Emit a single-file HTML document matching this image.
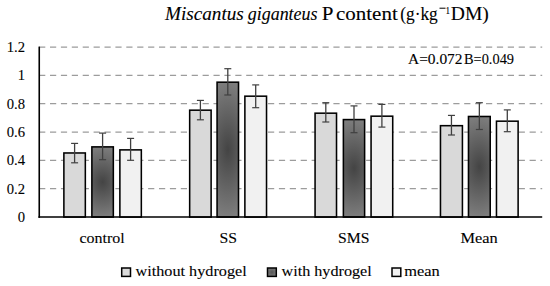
<!DOCTYPE html>
<html><head><meta charset="utf-8"><style>
html,body{margin:0;padding:0;background:#fff;}
svg{display:block;font-family:"Liberation Serif",serif;}
text{fill:#000;}
</style></head><body>
<svg width="550" height="286" viewBox="0 0 550 286">
<defs>
<radialGradient id="g0" gradientUnits="userSpaceOnUse" cx="0" cy="0" r="35.09" gradientTransform="translate(102.60 181.96) scale(0.7947 1)"><stop offset="0" stop-color="#444"/><stop offset="1" stop-color="#7d7d7d"/></radialGradient>
<radialGradient id="g1" gradientUnits="userSpaceOnUse" cx="0" cy="0" r="67.44" gradientTransform="translate(227.80 149.61) scale(0.4135 1)"><stop offset="0" stop-color="#444"/><stop offset="1" stop-color="#7d7d7d"/></radialGradient>
<radialGradient id="g2" gradientUnits="userSpaceOnUse" cx="0" cy="0" r="48.74" gradientTransform="translate(354.00 168.31) scale(0.5668 1)"><stop offset="0" stop-color="#444"/><stop offset="1" stop-color="#7d7d7d"/></radialGradient>
<radialGradient id="g3" gradientUnits="userSpaceOnUse" cx="0" cy="0" r="50.29" gradientTransform="translate(479.35 166.76) scale(0.5623 1)"><stop offset="0" stop-color="#444"/><stop offset="1" stop-color="#7d7d7d"/></radialGradient>
<radialGradient id="gl" cx="0.5" cy="0.5" r="0.6"><stop offset="0" stop-color="#555"/><stop offset="1" stop-color="#808080"/></radialGradient>
</defs>
<rect width="550" height="286" fill="#fff"/>
<line x1="39.1" y1="188.72" x2="542.2" y2="188.72" stroke="#9c9c9c" stroke-width="1.2" stroke-dasharray="6.2 4.7"/>
<line x1="39.1" y1="160.38" x2="542.2" y2="160.38" stroke="#9c9c9c" stroke-width="1.2" stroke-dasharray="6.2 4.7"/>
<line x1="39.1" y1="132.05" x2="542.2" y2="132.05" stroke="#9c9c9c" stroke-width="1.2" stroke-dasharray="6.2 4.7"/>
<line x1="39.1" y1="103.72" x2="542.2" y2="103.72" stroke="#9c9c9c" stroke-width="1.2" stroke-dasharray="6.2 4.7"/>
<line x1="39.1" y1="75.38" x2="542.2" y2="75.38" stroke="#9c9c9c" stroke-width="1.2" stroke-dasharray="6.2 4.7"/>
<line x1="39.1" y1="47.05" x2="542.2" y2="47.05" stroke="#9c9c9c" stroke-width="1.2" stroke-dasharray="6.2 4.7"/>
<rect x="63.88" y="152.97" width="21.45" height="64.08" fill="#d9d9d9" stroke="#000" stroke-width="1.55"/>
<rect x="91.88" y="146.88" width="21.45" height="70.18" fill="url(#g0)" stroke="#000" stroke-width="1.55"/>
<rect x="119.88" y="149.88" width="21.45" height="67.18" fill="#f1f1f1" stroke="#000" stroke-width="1.55"/>
<rect x="189.67" y="110.18" width="21.45" height="106.88" fill="#d9d9d9" stroke="#000" stroke-width="1.55"/>
<rect x="217.07" y="82.18" width="21.45" height="134.88" fill="url(#g1)" stroke="#000" stroke-width="1.55"/>
<rect x="244.88" y="96.18" width="21.65" height="120.88" fill="#f1f1f1" stroke="#000" stroke-width="1.55"/>
<rect x="315.07" y="113.18" width="21.45" height="103.88" fill="#d9d9d9" stroke="#000" stroke-width="1.55"/>
<rect x="343.37" y="119.58" width="21.25" height="97.48" fill="url(#g2)" stroke="#000" stroke-width="1.55"/>
<rect x="371.07" y="116.18" width="21.65" height="100.88" fill="#f1f1f1" stroke="#000" stroke-width="1.55"/>
<rect x="440.47" y="125.68" width="21.95" height="91.38" fill="#d9d9d9" stroke="#000" stroke-width="1.55"/>
<rect x="468.47" y="116.48" width="21.75" height="100.58" fill="url(#g3)" stroke="#000" stroke-width="1.55"/>
<rect x="496.47" y="121.18" width="21.65" height="95.88" fill="#f1f1f1" stroke="#000" stroke-width="1.55"/>
<line x1="74.60" y1="143.40" x2="74.60" y2="162.80" stroke="#404040" stroke-width="1.3"/>
<line x1="71.10" y1="143.40" x2="78.10" y2="143.40" stroke="#404040" stroke-width="1.2"/>
<line x1="71.10" y1="162.80" x2="78.10" y2="162.80" stroke="#404040" stroke-width="1.2"/>
<line x1="102.60" y1="133.10" x2="102.60" y2="159.70" stroke="#404040" stroke-width="1.3"/>
<line x1="99.10" y1="133.10" x2="106.10" y2="133.10" stroke="#404040" stroke-width="1.2"/>
<line x1="99.10" y1="159.70" x2="106.10" y2="159.70" stroke="#404040" stroke-width="1.2"/>
<line x1="130.60" y1="138.40" x2="130.60" y2="160.30" stroke="#404040" stroke-width="1.3"/>
<line x1="127.10" y1="138.40" x2="134.10" y2="138.40" stroke="#404040" stroke-width="1.2"/>
<line x1="127.10" y1="160.30" x2="134.10" y2="160.30" stroke="#404040" stroke-width="1.2"/>
<line x1="200.40" y1="100.40" x2="200.40" y2="119.80" stroke="#404040" stroke-width="1.3"/>
<line x1="196.90" y1="100.40" x2="203.90" y2="100.40" stroke="#404040" stroke-width="1.2"/>
<line x1="196.90" y1="119.80" x2="203.90" y2="119.80" stroke="#404040" stroke-width="1.2"/>
<line x1="227.80" y1="68.70" x2="227.80" y2="95.00" stroke="#404040" stroke-width="1.3"/>
<line x1="224.30" y1="68.70" x2="231.30" y2="68.70" stroke="#404040" stroke-width="1.2"/>
<line x1="224.30" y1="95.00" x2="231.30" y2="95.00" stroke="#404040" stroke-width="1.2"/>
<line x1="255.70" y1="84.90" x2="255.70" y2="107.70" stroke="#404040" stroke-width="1.3"/>
<line x1="252.20" y1="84.90" x2="259.20" y2="84.90" stroke="#404040" stroke-width="1.2"/>
<line x1="252.20" y1="107.70" x2="259.20" y2="107.70" stroke="#404040" stroke-width="1.2"/>
<line x1="325.80" y1="102.70" x2="325.80" y2="122.00" stroke="#404040" stroke-width="1.3"/>
<line x1="322.30" y1="102.70" x2="329.30" y2="102.70" stroke="#404040" stroke-width="1.2"/>
<line x1="322.30" y1="122.00" x2="329.30" y2="122.00" stroke="#404040" stroke-width="1.2"/>
<line x1="354.00" y1="105.90" x2="354.00" y2="132.70" stroke="#404040" stroke-width="1.3"/>
<line x1="350.50" y1="105.90" x2="357.50" y2="105.90" stroke="#404040" stroke-width="1.2"/>
<line x1="350.50" y1="132.70" x2="357.50" y2="132.70" stroke="#404040" stroke-width="1.2"/>
<line x1="381.90" y1="104.40" x2="381.90" y2="127.10" stroke="#404040" stroke-width="1.3"/>
<line x1="378.40" y1="104.40" x2="385.40" y2="104.40" stroke="#404040" stroke-width="1.2"/>
<line x1="378.40" y1="127.10" x2="385.40" y2="127.10" stroke="#404040" stroke-width="1.2"/>
<line x1="451.45" y1="115.40" x2="451.45" y2="135.00" stroke="#404040" stroke-width="1.3"/>
<line x1="447.95" y1="115.40" x2="454.95" y2="115.40" stroke="#404040" stroke-width="1.2"/>
<line x1="447.95" y1="135.00" x2="454.95" y2="135.00" stroke="#404040" stroke-width="1.2"/>
<line x1="479.35" y1="102.70" x2="479.35" y2="129.50" stroke="#404040" stroke-width="1.3"/>
<line x1="475.85" y1="102.70" x2="482.85" y2="102.70" stroke="#404040" stroke-width="1.2"/>
<line x1="475.85" y1="129.50" x2="482.85" y2="129.50" stroke="#404040" stroke-width="1.2"/>
<line x1="507.30" y1="109.90" x2="507.30" y2="131.70" stroke="#404040" stroke-width="1.3"/>
<line x1="503.80" y1="109.90" x2="510.80" y2="109.90" stroke="#404040" stroke-width="1.2"/>
<line x1="503.80" y1="131.70" x2="510.80" y2="131.70" stroke="#404040" stroke-width="1.2"/>
<line x1="39.25" y1="46.6" x2="39.25" y2="217.85" stroke="#000" stroke-width="1.6"/>
<line x1="38.45" y1="217.05" x2="542.2" y2="217.05" stroke="#000" stroke-width="1.6"/>
<text x="25" y="222.15" text-anchor="end" font-size="14.67" stroke="#000" stroke-width="0.1">0</text>
<text x="25" y="193.82" text-anchor="end" font-size="14.67" stroke="#000" stroke-width="0.1">0.2</text>
<text x="25" y="165.48" text-anchor="end" font-size="14.67" stroke="#000" stroke-width="0.1">0.4</text>
<text x="25" y="137.15" text-anchor="end" font-size="14.67" stroke="#000" stroke-width="0.1">0.6</text>
<text x="25" y="108.82" text-anchor="end" font-size="14.67" stroke="#000" stroke-width="0.1">0.8</text>
<text x="25" y="80.48" text-anchor="end" font-size="14.67" stroke="#000" stroke-width="0.1">1</text>
<text x="25" y="52.15" text-anchor="end" font-size="14.67" stroke="#000" stroke-width="0.1">1.2</text>
<text x="79.5" y="243" font-size="14.67" textLength="45.26" lengthAdjust="spacingAndGlyphs" stroke="#000" stroke-width="0.1">control</text>
<text x="219.5" y="243" font-size="14.67" textLength="17.51" lengthAdjust="spacingAndGlyphs" stroke="#000" stroke-width="0.1">SS</text>
<text x="338.0" y="243" font-size="14.67" textLength="31.38" lengthAdjust="spacingAndGlyphs" stroke="#000" stroke-width="0.1">SMS</text>
<text x="460.5" y="243" font-size="14.67" textLength="37.27" lengthAdjust="spacingAndGlyphs" stroke="#000" stroke-width="0.1">Mean</text>
<rect x="121.70" y="268.0" width="8.8" height="8.4" fill="#d9d9d9" stroke="#000" stroke-width="1.5"/>
<text x="135.5" y="276.4" font-size="14.67" textLength="111.25" lengthAdjust="spacingAndGlyphs" stroke="#000" stroke-width="0.1">without hydrogel</text>
<rect x="267.50" y="268.0" width="8.8" height="8.4" fill="url(#gl)" stroke="#000" stroke-width="1.5"/>
<text x="281.5" y="276.4" font-size="14.67" textLength="90.25" lengthAdjust="spacingAndGlyphs" stroke="#000" stroke-width="0.1">with hydrogel</text>
<rect x="392.00" y="268.0" width="8.8" height="8.4" fill="#f1f1f1" stroke="#000" stroke-width="1.5"/>
<text x="404.25" y="276.4" font-size="14.67" textLength="35.51" lengthAdjust="spacingAndGlyphs" stroke="#000" stroke-width="0.1">mean</text>
<text x="408.0" y="64" font-size="14.2" textLength="54.51" lengthAdjust="spacingAndGlyphs" stroke="#000" stroke-width="0.1">A=0.072</text>
<text x="464.0" y="64" font-size="14.2" textLength="50.02" lengthAdjust="spacingAndGlyphs" stroke="#000" stroke-width="0.1">B=0.049</text>
<text x="165.0" y="19.5" font-size="18" font-style="italic" textLength="78.75" lengthAdjust="spacingAndGlyphs" stroke="#000" stroke-width="0.1">Miscantus</text>
<text x="247.75" y="19.5" font-size="18" font-style="italic" textLength="69.76" lengthAdjust="spacingAndGlyphs" stroke="#000" stroke-width="0.1">giganteus</text>
<text x="321.75" y="19.5" font-size="18" textLength="11.68" lengthAdjust="spacingAndGlyphs" stroke="#000" stroke-width="0.1">P</text>
<text x="336.0" y="19.5" font-size="18" textLength="61.76" lengthAdjust="spacingAndGlyphs" stroke="#000" stroke-width="0.1">content</text>
<text x="400.25" y="19.5" font-size="18" textLength="37.54" lengthAdjust="spacingAndGlyphs" stroke="#000" stroke-width="0.1">(g·kg</text>
<text x="450.75" y="19.5" font-size="18" textLength="38.05" lengthAdjust="spacingAndGlyphs" stroke="#000" stroke-width="0.1">DM)</text>
<text x="445.5" y="13.8" font-size="9.5" textLength="4.52" lengthAdjust="spacingAndGlyphs" stroke="#000" stroke-width="0.1">1</text>
<rect x="439.5" y="7.7" width="6" height="1.0" fill="#000"/>
</svg>
</body></html>
